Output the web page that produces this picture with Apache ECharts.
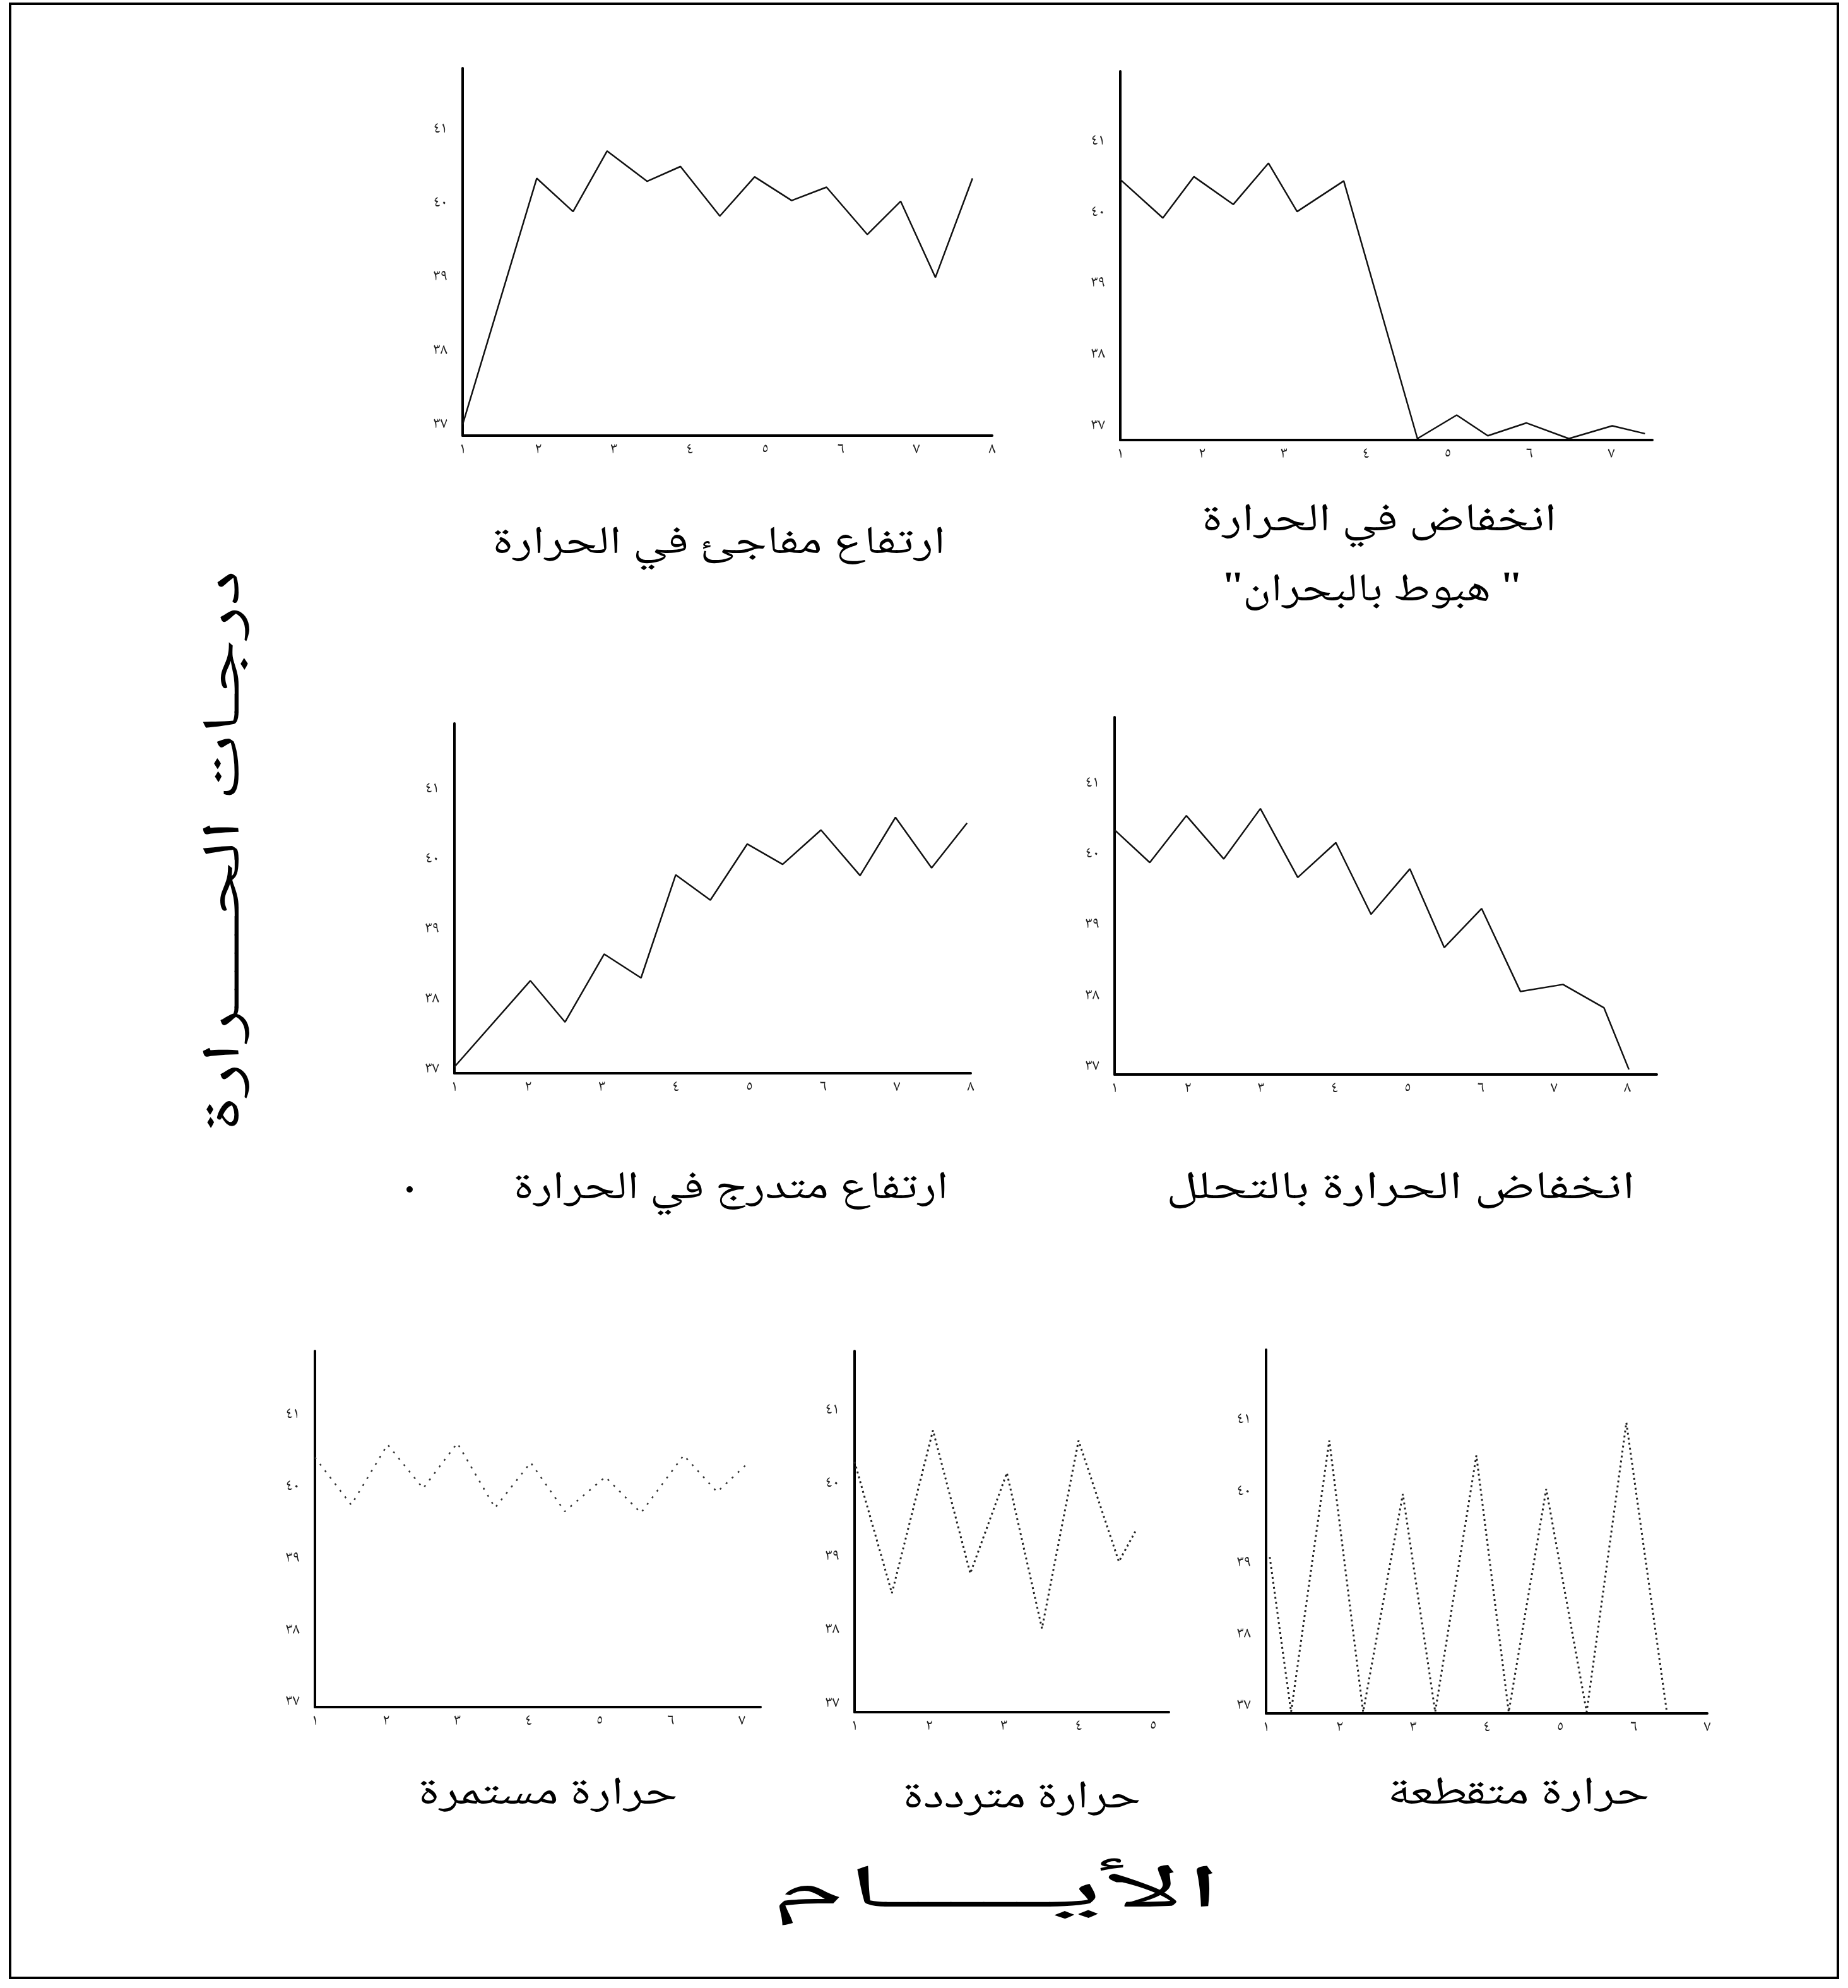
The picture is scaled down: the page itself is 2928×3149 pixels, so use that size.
<!DOCTYPE html>
<html><head><meta charset="utf-8">
<script src="https://cdn.jsdelivr.net/npm/echarts@6/dist/echarts.min.js"></script>
<style>html,body{margin:0;padding:0;background:#fff}#c{width:2928px;height:3149px}</style>
</head><body><div id="c"></div>
<script>
// ---- tick labels ----
const dayTickValues = [1, 2, 3, 4, 5, 6, 7, 8];
const dayTicks = ['١', '٢', '٣', '٤', '٥', '٦', '٧', '٨'];
const tempTickValues = [37, 38, 39, 40, 41];
const tempTicks = ['٣٧', '٣٨', '٣٩', '٤٠', '٤١'];

// ---- texts ----
const chartTitles = [
  'ارتفاع مفاجئ في الحرارة',
  'انخفاض في الحرارة',
  '" هبوط بالبحران"',
  'ارتفاع متدرج في الحرارة',
  'انخفاض الحرارة بالتحلل',
  'حرارة مستمرة',
  'حرارة مترددة',
  'حرارة متقطعة'
];
const yAxisTitle = 'درجـات الحـــــرارة';
const xAxisTitle = 'الأيـــــام';

// ---- series values (day, temperature °C) ----
// 1: sudden rise
const c1Days  = [1, 1.98, 2.46, 2.91, 3.44, 3.88, 4.40, 4.86, 5.35, 5.81, 6.35, 6.79, 7.25, 7.74];
const c1Temps = [37.02, 40.35, 39.90, 40.72, 40.31, 40.51, 39.84, 40.37, 40.05, 40.23, 39.59, 40.04, 39.01, 40.35];
// 2: fall by crisis
const c2Days  = [1, 1.52, 1.90, 2.38, 2.81, 3.16, 3.73, 4.63, 5.11, 5.49, 5.96, 6.48, 7.01, 7.41];
const c2Temps = [40.48, 39.94, 40.52, 40.13, 40.71, 40.03, 40.46, 36.84, 37.17, 36.88, 37.06, 36.84, 37.02, 36.91];
// 3: gradual rise
const c3Days  = [1, 2.03, 2.50, 3.03, 3.53, 4.00, 4.47, 4.97, 5.45, 5.97, 6.50, 6.98, 7.47, 7.95];
const c3Temps = [37.05, 38.28, 37.69, 38.66, 38.32, 39.79, 39.43, 40.23, 39.94, 40.43, 39.78, 40.61, 39.89, 40.53];
// 4: fall by lysis
const c4Days  = [1, 1.48, 1.98, 2.49, 2.99, 3.50, 4.02, 4.50, 5.03, 5.50, 6.01, 6.54, 7.12, 7.68, 8.02];
const c4Temps = [40.36, 39.90, 40.56, 39.95, 40.66, 39.69, 40.18, 39.17, 39.81, 38.70, 39.25, 38.08, 38.18, 37.85, 36.98];
// 5: continuous
const c5Days  = [1, 1.51, 2.02, 2.52, 3.00, 3.53, 4.03, 4.51, 5.08, 5.58, 6.18, 6.65, 7.07];
const c5Temps = [40.42, 39.76, 40.60, 39.99, 40.62, 39.72, 40.35, 39.67, 40.15, 39.65, 40.45, 39.94, 40.33];
// 6: remittent
const c6Days  = [1, 1.50, 2.05, 2.55, 3.04, 3.51, 4.00, 4.54, 4.76];
const c6Temps = [40.31, 38.52, 40.74, 38.79, 40.16, 38.04, 40.60, 38.95, 39.36];
// 7: intermittent
const c7Days  = [1.05, 1.34, 1.86, 2.32, 2.86, 3.30, 3.86, 4.30, 4.81, 5.36, 5.90, 6.45];
const c7Temps = [39.10, 36.93, 40.73, 36.93, 39.98, 36.93, 40.52, 36.93, 40.05, 36.93, 40.98, 36.93];

const FONT = '"Noto Naskh Arabic","Noto Sans Arabic","DejaVu Sans",sans-serif';

const panels = [
  {days: c1Days, temps: c1Temps, nTicks: 8, g: [733, 108, 839, 582], x: [1, 8],    y: [36.87, 41.84], dash: 'solid', w: 2.5, c: '#111'},
  {days: c2Days, temps: c2Temps, nTicks: 7, g: [1775, 113, 843, 584], x: [1, 7.5], y: [36.82, 42.0],  dash: 'solid', w: 2.5, c: '#111'},
  {days: c3Days, temps: c3Temps, nTicks: 8, g: [720, 1146, 818, 554], x: [1, 8],   y: [36.96, 41.95], dash: 'solid', w: 2.5, c: '#111'},
  {days: c4Days, temps: c4Temps, nTicks: 8, g: [1766, 1136, 859, 566], x: [1, 8.4], y: [36.91, 41.95], dash: 'solid', w: 2.5, c: '#111'},
  {days: c5Days, temps: c5Temps, nTicks: 7, g: [499, 2140, 706, 564], x: [1, 7.26], y: [36.95, 41.9], dash: [3, 10], w: 2.5, c: '#333'},
  {days: c6Days, temps: c6Temps, nTicks: 5, g: [1354, 2140, 498, 572], x: [1, 5.21], y: [36.9, 41.82], dash: [3, 5], w: 3, c: '#222'},
  {days: c7Days, temps: c7Temps, nTicks: 7, g: [2006, 2138, 699, 576], x: [1, 7],   y: [36.91, 42.0], dash: [3, 5], w: 3, c: '#222'}
];

const grids = [], xAxes = [], yAxes = [], series = [];
panels.forEach((p, i) => {
  grids.push({left: p.g[0], top: p.g[1], width: p.g[2], height: p.g[3], containLabel: false});
  xAxes.push({
    type: 'value', gridIndex: i, min: p.x[0], max: p.x[1], interval: 1,
    axisLine: {show: true, onZero: false, lineStyle: {color: '#000', width: 4}},
    axisTick: {show: false}, splitLine: {show: false},
    axisLabel: {
      customValues: dayTickValues.slice(0, p.nTicks),
      formatter: v => { const k = dayTickValues.indexOf(v); return k >= 0 && k < p.nTicks ? dayTicks[k] : ''; },
      fontSize: 25, color: '#222', margin: 12, fontFamily: FONT
    }
  });
  yAxes.push({
    type: 'value', gridIndex: i, min: p.y[0], max: p.y[1],
    axisLine: {show: true, onZero: false, lineStyle: {color: '#000', width: 4}},
    axisTick: {show: false}, splitLine: {show: false},
    axisLabel: {
      customValues: tempTickValues,
      formatter: v => { const k = tempTickValues.indexOf(v); return k >= 0 ? tempTicks[k] : ''; },
      fontSize: 25, color: '#222', margin: 24, fontFamily: FONT
    }
  });
  series.push({
    type: 'line', xAxisIndex: i, yAxisIndex: i, silent: true,
    data: p.days.map((d, k) => [d, p.temps[k]]),
    showSymbol: false, symbol: 'none', smooth: false,
    lineStyle: {color: p.c, width: p.w, type: p.dash}
  });
});

const mctx = document.createElement('canvas').getContext('2d');
function fitText(text, cx, cy, targetW, size, rot) {
  const font = size + 'px ' + FONT;
  mctx.font = font;
  const w = mctx.measureText(text).width || targetW;
  return {
    type: 'text', x: cx, y: cy, rotation: rot || 0, scaleX: targetW / w, silent: true,
    style: {text: text, font: font, fill: '#000', align: 'center', verticalAlign: 'middle'}
  };
}

const TS = 62;
const graphics = [
  {type: 'rect', silent: true, shape: {x: 16, y: 6, width: 2896, height: 3127},
   style: {fill: 'none', stroke: '#000', lineWidth: 4}},
  fitText(chartTitles[0], 1139, 868, 718, TS),
  fitText(chartTitles[1], 2185, 832, 562, TS),
  fitText('\u202B' + chartTitles[2] + '\u202C', 2174, 943, 472, TS),
  fitText(chartTitles[3], 1158, 1890, 689, TS),
  fitText(chartTitles[4], 2219, 1890, 743, TS),
  fitText(chartTitles[5], 868, 2849, 411, TS),
  fitText(chartTitles[6], 1619, 2855, 377, TS),
  fitText(chartTitles[7], 2406, 2849, 415, TS),
  fitText(yAxisTitle, 367, 1348, 890, 84, Math.PI / 2),
  fitText(xAxisTitle, 1577, 3008, 718, 96),
  {type: 'circle', silent: true, shape: {cx: 649, cy: 1884, r: 5}, style: {fill: '#000'}}
];

const chart = echarts.init(document.getElementById('c'), null, {renderer: 'canvas'});
chart.setOption({
  animation: false,
  backgroundColor: '#fff',
  grid: grids, xAxis: xAxes, yAxis: yAxes, series: series,
  graphic: graphics
});
</script></body></html>
